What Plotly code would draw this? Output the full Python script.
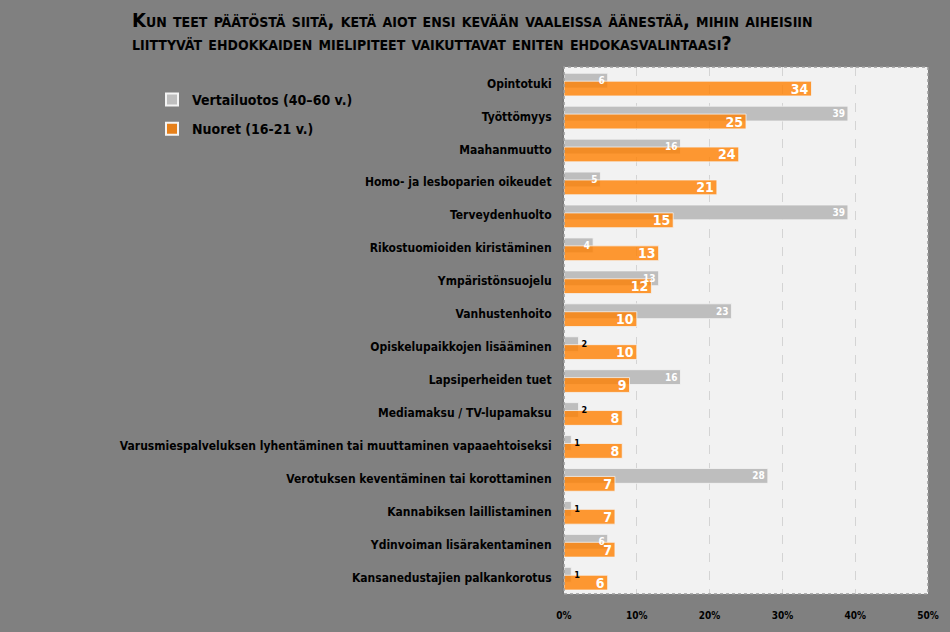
import plotly.graph_objects as go

categories = [
    "Opintotuki",
    "Työttömyys",
    "Maahanmuutto",
    "Homo- ja lesboparien oikeudet",
    "Terveydenhuolto",
    "Rikostuomioiden kiristäminen",
    "Ympäristönsuojelu",
    "Vanhustenhoito",
    "Opiskelupaikkojen lisääminen",
    "Lapsiperheiden tuet",
    "Mediamaksu / TV-lupamaksu",
    "Varusmiespalveluksen lyhentäminen tai muuttaminen vapaaehtoiseksi",
    "Verotuksen keventäminen tai korottaminen",
    "Kannabiksen laillistaminen",
    "Ydinvoiman lisärakentaminen",
    "Kansanedustajien palkankorotus",
]
vertailu = [6, 39, 16, 5, 39, 4, 13, 23, 2, 16, 2, 1, 28, 1, 6, 1]
nuoret = [34, 25, 24, 21, 15, 13, 12, 10, 10, 9, 8, 8, 7, 7, 7, 6]
x_ticks = [0, 10, 20, 30, 40, 50]
x_ticklabels = ["0%", "10%", "20%", "30%", "40%", "50%"]
title_lines = [
    "Kun teet päätöstä siitä, ketä aiot ensi kevään vaaleissa äänestää, mihin aiheisiin",
    "liittyvät ehdokkaiden mielipiteet vaikuttavat eniten ehdokasvalintaasi?",
]

FONT = "DejaVu Sans Condensed"
W, H = 950, 632
ML, MR, MT, MB = 564, 22, 67, 38
PW, PH = W - ML - MR, H - MT - MB

GREY_OFF, ORANGE_OFF, BW = -0.31, -0.07, 0.45
grey_pos = ["outside" if v <= 2 else "inside" for v in vertailu]

fig = go.Figure()
# grey bars (behind)
fig.add_trace(go.Bar(
    y=categories, x=vertailu, orientation="h",
    name="Vertailuotos (40–60 v.)", legendgroup="a",
    marker=dict(color="#bebebe", line=dict(color="#f4f4f4", width=0.8)),
    width=BW, offset=GREY_OFF, textposition="none",
))
# orange bars (front, slightly translucent)
fig.add_trace(go.Bar(
    y=categories, x=nuoret, orientation="h",
    name="Nuoret (16-21 v.)", legendgroup="b",
    marker=dict(color="rgba(255,128,0,0.8)", line=dict(color="#f4f4f4", width=0.8)),
    width=BW, offset=ORANGE_OFF,
    text=[str(v) for v in nuoret], textposition="inside",
    insidetextanchor="end", textangle=0, constraintext="none",
    insidetextfont=dict(color="white", size=14, family=FONT, weight="bold"),
    cliponaxis=False,
))
# grey value labels drawn on top
fig.add_trace(go.Bar(
    y=categories, x=vertailu, orientation="h",
    showlegend=False, hoverinfo="skip",
    marker=dict(color="rgba(0,0,0,0)", line=dict(width=0)),
    width=BW, offset=GREY_OFF,
    text=[str(v) for v in vertailu], textposition=grey_pos,
    insidetextanchor="end", textangle=0, constraintext="none",
    insidetextfont=dict(color="white", size=10, family=FONT, weight="bold"),
    outsidetextfont=dict(color="black", size=9, family=FONT, weight="bold"),
    cliponaxis=False,
))

annotations = []
for py, line in zip([20, 43], title_lines):
    annotations.append(dict(
        text=line, showarrow=False,
        xref="paper", yref="paper",
        x=(130 - ML) / PW, xanchor="left",
        y=1 + (MT - py) / PH, yanchor="middle",
        font=dict(family=FONT, size=20, weight="bold", variant="small-caps", color="black"),
    ))

fig.update_layout(
    width=W, height=H,
    paper_bgcolor="#808080",
    plot_bgcolor="#f2f2f2",
    barmode="overlay",
    margin=dict(l=ML, r=MR, t=MT, b=MB, autoexpand=False),
    font=dict(family=FONT, color="black"),
    annotations=annotations,
    legend=dict(
        x=152 / W, xref="container", xanchor="left",
        y=1 - 84 / H, yref="container", yanchor="top",
        bgcolor="rgba(0,0,0,0)",
        font=dict(family=FONT, size=14, weight="bold", color="black"),
        itemsizing="constant",
        tracegroupgap=8,
        traceorder="grouped",
    ),
    showlegend=True,
    xaxis=dict(
        range=[0, 50], tickvals=x_ticks, ticktext=x_ticklabels,
        showgrid=True, gridcolor="#d4d4d4", griddash="dash", gridwidth=1,
        zeroline=False, showline=False, automargin=False,
        tickfont=dict(family=FONT, size=10, weight="bold", color="black"),
        tickangle=0,
        ticks="", ticklabelstandoff=14,
        fixedrange=True,
    ),
    yaxis=dict(
        autorange="reversed", automargin=False,
        tickfont=dict(family=FONT, size=12, weight="bold", color="black"),
        ticks="", ticklabelstandoff=8,
        showline=True, linecolor="#7a7a7a", linewidth=2,
        showgrid=False,
    ),
    shapes=[dict(
        type="rect", xref="paper", yref="paper", x0=0, x1=1, y0=0, y1=1,
        line=dict(color="#9a9a9a", width=1.5, dash="dot"),
        fillcolor="rgba(0,0,0,0)", layer="above",
    )],
)

fig.write_html(
    "out.html",
    config={"displayModeBar": False},
    post_script="document.body.style.margin='0';document.body.style.background='#808080';",
)
